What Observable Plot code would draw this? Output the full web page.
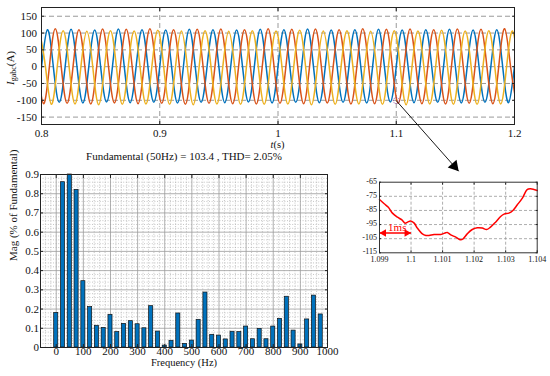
<!DOCTYPE html>
<html><head><meta charset="utf-8">
<script src="https://cdn.jsdelivr.net/npm/d3@7"></script>
<script src="https://cdn.jsdelivr.net/npm/@observablehq/plot@0.6"></script>
<style>
body{margin:0;background:#fff;}
#wrap{position:relative;width:550px;height:376px;overflow:hidden;background:#fff;}
#wrap svg{position:absolute;}
</style></head><body><div id="wrap"></div>
<script>
const FONT = "Liberation Serif, Times New Roman, serif";

// ---------- Top panel: three-phase grid currents ----------
const topXTicks = [0.8, 0.9, 1, 1.1, 1.2];
const topYTicks = [-150, -100, -50, 0, 50, 100, 150];
const fundamentalHz = 50;
// signed peak values of each half-cycle, first one at the given time
const blueStart = 0.795;
const blueExtremes = [-107,110,-106,111,-108,109,-105,112,-107,110,-106,109,-108,111,-106,110,-107,109,-105,111,-108,110,-106,112,-107,109,-106,110,-108,111,-105,109,-107,110,-106,111,-108,109,-106,110,-107,111];
const redStart = 0.79167;
const redExtremes = [111,-110,113,-109,110,-111,112,-108,111,-110,113,-109,110,-112,111,-109,112,-110,110,-111,113,-109,111,-110,112,-108,110,-111,113,-110,111,-109,112,-110,110,-111,112,-109,111,-110,113,-109];
const yellowStart = 0.79833;
const yellowExtremes = [106,-112,107,-111,105,-113,107,-112,106,-111,108,-112,106,-113,107,-111,105,-112,107,-112,106,-111,108,-113,106,-112,107,-111,105,-112,107,-113,106,-111,108,-112,106,-112,107,-111,106,-112];
// zoomed point and arrow to the inset
const zoomArrow = [{t1: 1.1, v1: -101, t2: 1.1528, v2: -311}];

// ---------- Bottom-left: FFT spectrum ----------
const barFreqs = d3.range(0, 1000, 25);
const barMags = [0.18,0.86,0.90,0.82,0.345,0.21,0.113,0.102,0.17,0.08,0.123,0.137,0.121,0.10,0.215,0.083,0.01,0.035,0.177,0.019,0.036,0.144,0.286,0.066,0.062,0.042,0.082,0.08,0.109,0.043,0.097,0.043,0.109,0.149,0.264,0.088,0.016,0.146,0.27,0.172];
const barXTicks = [0,100,200,300,400,500,600,700,800,900,1000];
const barYTicks = [0,0.1,0.2,0.3,0.4,0.5,0.6,0.7,0.8,0.9];
const barTitle = "Fundamental (50Hz) = 103.4 , THD= 2.05%";
const barXLabel = "Frequency (Hz)";
const barYLabel = "Mag (% of Fundamental)";

// ---------- Inset: zoom around t = 1.1 s ----------
const insetT = [1.099,1.09915,1.09928,1.09941,1.09957,1.09971,1.09981,1.09989,1.09999,1.1001,1.1002,1.10036,1.10047,1.10057,1.10073,1.10094,1.1011,1.10115,1.10126,1.10142,1.10157,1.10165,1.10178,1.10194,1.1021,1.10226,1.1024,1.10252,1.10268,1.10284,1.10295,1.1031,1.10323,1.10337,1.10353,1.10368,1.10379,1.104];
const insetV = [-77.3,-80.3,-82.7,-86.9,-89.8,-91.7,-94,-93.3,-92.4,-94,-97.5,-101.6,-102.7,-102.7,-102,-102,-100.8,-100.6,-102.3,-103.9,-105.8,-105.1,-101.6,-98.5,-97.3,-97.5,-98.5,-96.8,-93.3,-89.3,-87.6,-86.9,-85,-81,-76.3,-70.2,-69.7,-70.9];
const insetXTicks = [1.099,1.1,1.101,1.102,1.103,1.104];
const insetYTicks = [-115,-105,-95,-85,-75,-65];
const msSpan = [{t1: 1.099, t2: 1.1, v: -101, label: "1ms"}];

// ---------- helpers ----------
function wave(start, ext) {
  const half = 1 / fundamentalHz / 2;
  const pts = [];
  ext.forEach((v, k) => {
    const t = start + k * half;
    pts.push({t, v});
    if (k < ext.length - 1) pts.push({t: t + half / 2, v: 0});
  });
  return pts;
}
function inward(xt, yt, size) {
  const o = {tickSize: -size, tickFormat: () => "", label: null, stroke: "#222"};
  return [
    Plot.axisX(xt, {anchor: "bottom", ...o}),
    Plot.axisX(xt, {anchor: "top", ...o}),
    Plot.axisY(yt, {anchor: "left", ...o}),
    Plot.axisY(yt, {anchor: "right", ...o})
  ];
}
const fmt = d => String(d);
const wrap = document.getElementById("wrap");
function place(svg, left, top) {
  svg.style.left = left + "px";
  svg.style.top = top + "px";
  wrap.appendChild(svg);
}

// ---------- Bar chart ----------
const bars = barFreqs.map((f, i) => ({f, m: barMags[i]}));
const minorX = d3.range(-40, 1000, 20).filter(v => v % 100 !== 0);
const minorY = d3.range(1, 45).map(i => i * 0.02).filter((v, i) => (i + 1) % 5 !== 0);
const barChart = Plot.plot({
  width: 340, height: 230,
  marginLeft: 40, marginRight: 13, marginTop: 34, marginBottom: 23,
  x: {domain: [-58, 1000]},
  y: {domain: [0, 0.9]},
  style: {fontFamily: FONT, fontSize: "11px", background: "transparent", overflow: "visible", color: "#111"},
  marks: [
    Plot.gridX(minorX, {stroke: "#a0a0a0", strokeOpacity: 1, strokeWidth: 0.6, strokeDasharray: "1,1.6"}),
    Plot.gridY(minorY, {stroke: "#a0a0a0", strokeOpacity: 1, strokeWidth: 0.6, strokeDasharray: "1,1.6"}),
    Plot.gridX(barXTicks.slice(0, -1), {stroke: "#9c9c9c", strokeOpacity: 1, strokeWidth: 0.8}),
    Plot.gridY(barYTicks.slice(1, -1), {stroke: "#9c9c9c", strokeOpacity: 1, strokeWidth: 0.8}),
    Plot.rect(bars, {x1: d => d.f - 7.5, x2: d => d.f + 7.5, y1: 0, y2: "m", fill: "#0072BD", stroke: "#111", strokeWidth: 0.7}),
    Plot.frame({stroke: "#222", strokeWidth: 1}),
    ...inward(barXTicks, barYTicks, 3),
    Plot.axisY(barYTicks, {tickSize: 0, tickPadding: 1.5, tickFormat: fmt, label: null, fontSize: 11}),
    Plot.axisX(barXTicks, {tickSize: 0, tickPadding: 0, tickFormat: fmt, label: null, fontSize: 11}),
    Plot.text([barTitle], {frameAnchor: "top", lineAnchor: "bottom", dy: -14.5, fontSize: 11, fill: "#111"}),
    Plot.text([barXLabel], {frameAnchor: "bottom", lineAnchor: "bottom", dy: 18, fontSize: 10.5, fill: "#111"}),
    Plot.text([barYLabel], {frameAnchor: "left", rotate: -90, dx: -27, lineAnchor: "middle", fontSize: 11, fill: "#111"})
  ]
});
place(barChart, 0, 140);

// ---------- Inset ----------
const insetData = insetT.map((t, i) => ({t, v: insetV[i]}));
const inset = Plot.plot({
  width: 210, height: 95,
  marginLeft: 39, marginRight: 13.3, marginTop: 6.7, marginBottom: 17.7,
  x: {domain: [1.099, 1.104]},
  y: {domain: [-115, -65]},
  style: {fontFamily: FONT, fontSize: "8px", background: "transparent", overflow: "visible", color: "#111"},
  marks: [
    Plot.gridX(insetXTicks.slice(1, -1), {stroke: "#999", strokeOpacity: 1, strokeDasharray: "3,2", strokeWidth: 0.8}),
    Plot.gridY(insetYTicks.slice(1, -1), {stroke: "#999", strokeOpacity: 1, strokeDasharray: "3,2", strokeWidth: 0.8}),
    Plot.line(insetData, {x: "t", y: "v", stroke: "#ff0000", strokeWidth: 1.5, curve: "catmull-rom"}),
    Plot.link(msSpan, {x1: "t1", x2: "t2", y1: "v", y2: "v", stroke: "#ff0000", strokeWidth: 1.5}),
    Plot.dot(msSpan, {x: "t1", y: "v", symbol: "triangle", rotate: -90, r: 2.8, dx: 4.3, fill: "#ff0000", stroke: "none"}),
    Plot.dot(msSpan, {x: "t2", y: "v", symbol: "triangle", rotate: 90, r: 2.8, dx: -4.3, fill: "#ff0000", stroke: "none"}),
    Plot.text(msSpan, {x: d => (d.t1 + d.t2) / 2, y: "v", text: "label", lineAnchor: "bottom", dy: -2, dx: 2, fill: "#ff0000", fontSize: 11}),
    Plot.frame({stroke: "#333", strokeWidth: 1}),
    ...inward(insetXTicks, insetYTicks, 2),
    Plot.axisY(insetYTicks, {tickSize: 0, tickPadding: 2.5, tickFormat: fmt, label: null, fontSize: 8, dy: -1}),
    Plot.axisX(insetXTicks, {tickSize: 0, tickPadding: 3.5, tickFormat: fmt, label: null, fontSize: 8})
  ]
});
place(inset, 340, 175);

// ---------- Top panel ----------
const gridStyle = {stroke: "#9a9a9a", strokeOpacity: 1, strokeWidth: 1, strokeDasharray: "5,3"};
const topChart = Plot.plot({
  width: 550, height: 160,
  marginLeft: 41, marginRight: 36, marginTop: 7, marginBottom: 36,
  x: {domain: [0.8, 1.2]},
  y: {domain: [-172, 176]},
  style: {fontFamily: FONT, fontSize: "11px", background: "transparent", overflow: "visible", color: "#111"},
  marks: [
    Plot.gridY(topYTicks, gridStyle),
    Plot.gridX(topXTicks.slice(1, -1), gridStyle),
    Plot.line(wave(blueStart, blueExtremes), {x: "t", y: "v", stroke: "#0072BD", strokeWidth: 1.5, curve: "natural", clip: true}),
    Plot.line(wave(redStart, redExtremes), {x: "t", y: "v", stroke: "#D95319", strokeWidth: 1.5, curve: "natural", clip: true}),
    Plot.line(wave(yellowStart, yellowExtremes), {x: "t", y: "v", stroke: "#EDB120", strokeWidth: 1.5, curve: "natural", clip: true}),
    Plot.frame({stroke: "#222", strokeWidth: 1}),
    ...inward(topXTicks, topYTicks, 3),
    Plot.axisY(topYTicks, {tickSize: 0, tickPadding: 4.5, tickFormat: fmt, label: null, fontSize: 11}),
    Plot.axisX(topXTicks, {tickSize: 0, tickPadding: 4.5, tickFormat: fmt, label: null, fontSize: 11}),
    Plot.dot(zoomArrow, {x: "t1", y: "v1", r: 3, stroke: "#7E2F8E", strokeWidth: 0.8, strokeDasharray: "1.2,1", fill: "none"}),
    Plot.link(zoomArrow, {x1: "t1", y1: "v1", x2: "t2", y2: "v2", stroke: "#000", strokeWidth: 0.9}),
    Plot.dot(zoomArrow, {x: "t2", y: "v2", symbol: "triangle", rotate: 139.3, r: 4.3, dx: -4.35, dy: -5.05, fill: "#000", stroke: "none"})
  ]
});
// axis titles with italic / subscript parts
const ts = d3.select(topChart);
const yl = ts.append("text").attr("transform", "translate(14,68) rotate(-90)")
  .attr("text-anchor", "middle").attr("font-family", FONT).attr("font-size", 11).attr("fill", "#111");
yl.append("tspan").attr("font-style", "italic").text("I");
yl.append("tspan").attr("font-size", 8).attr("dy", 2).text("gabc");
yl.append("tspan").attr("dy", -2).text("(A)");
const xl = ts.append("text").attr("x", 277.5).attr("y", 148)
  .attr("text-anchor", "middle").attr("font-family", FONT).attr("font-size", 10.5).attr("fill", "#111");
xl.append("tspan").attr("font-style", "italic").text("t");
xl.append("tspan").text("(s)");
place(topChart, 0, 0);
</script></body></html>
